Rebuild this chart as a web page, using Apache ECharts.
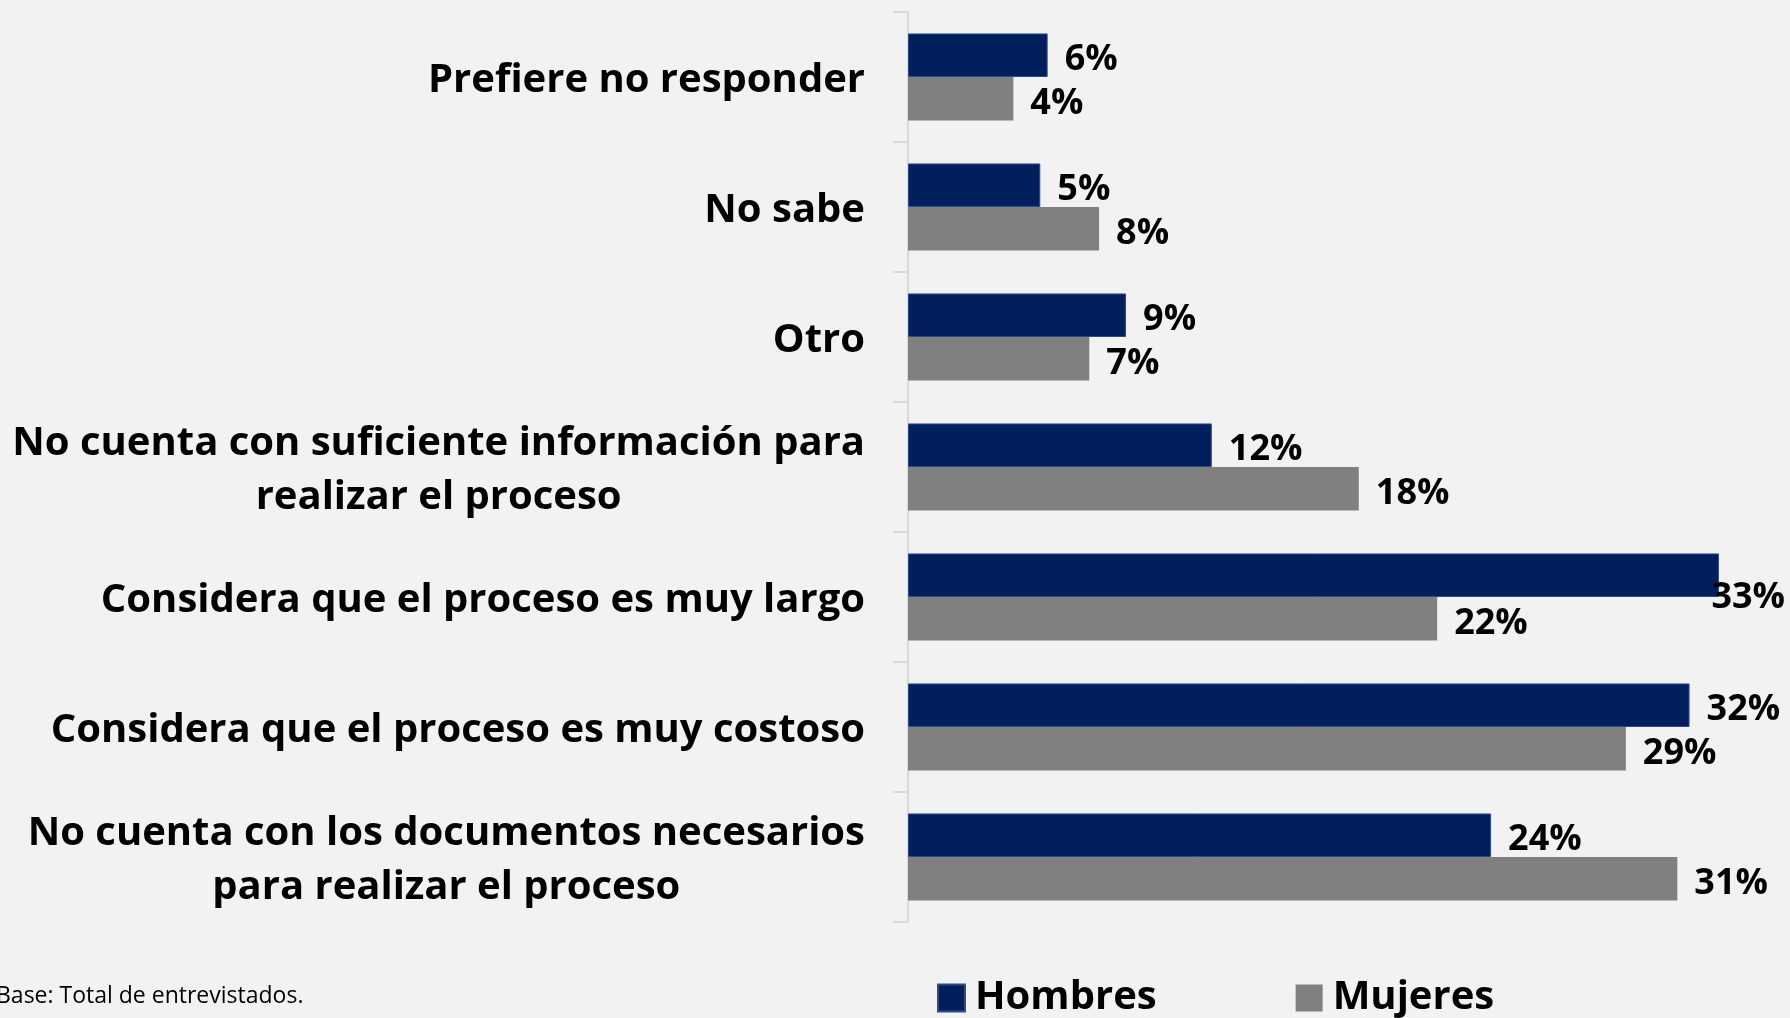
<!DOCTYPE html>
<html>
<head>
<meta charset="utf-8">
<script src="https://cdn.jsdelivr.net/npm/echarts@6/dist/echarts.min.js"></script>
<style>
    html, body { margin: 0; padding: 0; background: #F2F2F2; }
    #main { width: 1790px; height: 1018px; }
</style>
</head>
<body>
<div id="main"></div>
<script>
// categorias, de arriba hacia abajo
const categorias = [
    'Prefiere no responder',
    'No sabe',
    'Otro',
    'No cuenta con suficiente información para\nrealizar el proceso',
    'Considera que el proceso es muy largo',
    'Considera que el proceso es muy costoso',
    'No cuenta con los documentos necesarios\npara realizar el proceso'
];
// porcentajes
const hombres = [5.7, 5.4, 8.9, 12.4, 33.1, 31.9, 23.8];
const mujeres = [4.3, 7.8, 7.4, 18.4, 21.6, 29.3, 31.4];
const series = ['Hombres', 'Mujeres'];

const chart = echarts.init(document.getElementById('main'));

const etiqueta = {
    show: true,
    position: 'right',
    distance: 17,
    color: '#000',
    fontFamily: 'Open Sans',
    fontWeight: 'bold',
    fontSize: 36,
    formatter: p => Math.round(p.value) + '%'
};

const option = {
    backgroundColor: '#F2F2F2',
    animation: false,
    title: {
        text: 'Base: Total de entrevistados.',
        left: -9,
        top: 980,
        textStyle: { fontFamily: 'Open Sans', fontWeight: 'normal', fontSize: 23, color: '#000' }
    },
    legend: {
        data: series,
        left: 932,
        top: 973,
        icon: 'rect',
        itemWidth: 27,
        itemHeight: 27,
        itemGap: 139,
        textStyle: {
            fontFamily: 'Open Sans', fontWeight: 'bold', fontSize: 40, color: '#000',
            padding: [0, 0, 0, 5]
        }
    },
    grid: { left: 908, top: 12, width: 857.5, bottom: 96, containLabel: false },
    xAxis: {
        type: 'value',
        min: 0,
        max: 35,
        show: false
    },
    yAxis: {
        type: 'category',
        inverse: true,
        data: categorias,
        axisLine: { show: true, lineStyle: { color: '#D9D9D9', width: 2 } },
        axisTick: { show: true, length: 15, lineStyle: { color: '#D9D9D9', width: 2 } },
        axisLabel: {
            margin: 43,
            padding: [7, 0, 0, 0],
            formatter: v => v.split('\n').map(l => '{c|' + l + '}').join('\n'),
            rich: {
                c: {
                    align: 'center',
                    fontFamily: 'Open Sans',
                    fontWeight: 'bold',
                    fontSize: 40,
                    lineHeight: 54,
                    color: '#000'
                }
            }
        }
    },
    labelLayout: function (params) {
        // bajar un poco las etiquetas y mantenerlas dentro del lienzo
        const r = params.labelRect;
        const out = { dy: 5 };
        if (r.x + r.width > chart.getWidth() - 5) {
            out.x = chart.getWidth() - 5 - r.width;
        }
        return out;
    },
    series: [
        {
            name: series[0],
            type: 'bar',
            data: hombres,
            barGap: '0%',
            barCategoryGap: '33%',
            itemStyle: { color: '#001F5C', borderColor: '#2F4C85', borderWidth: 1 },
            label: etiqueta
        },
        {
            name: series[1],
            type: 'bar',
            data: mujeres,
            itemStyle: { color: '#808080' },
            label: etiqueta
        }
    ]
};

chart.setOption(option);
</script>
</body>
</html>
